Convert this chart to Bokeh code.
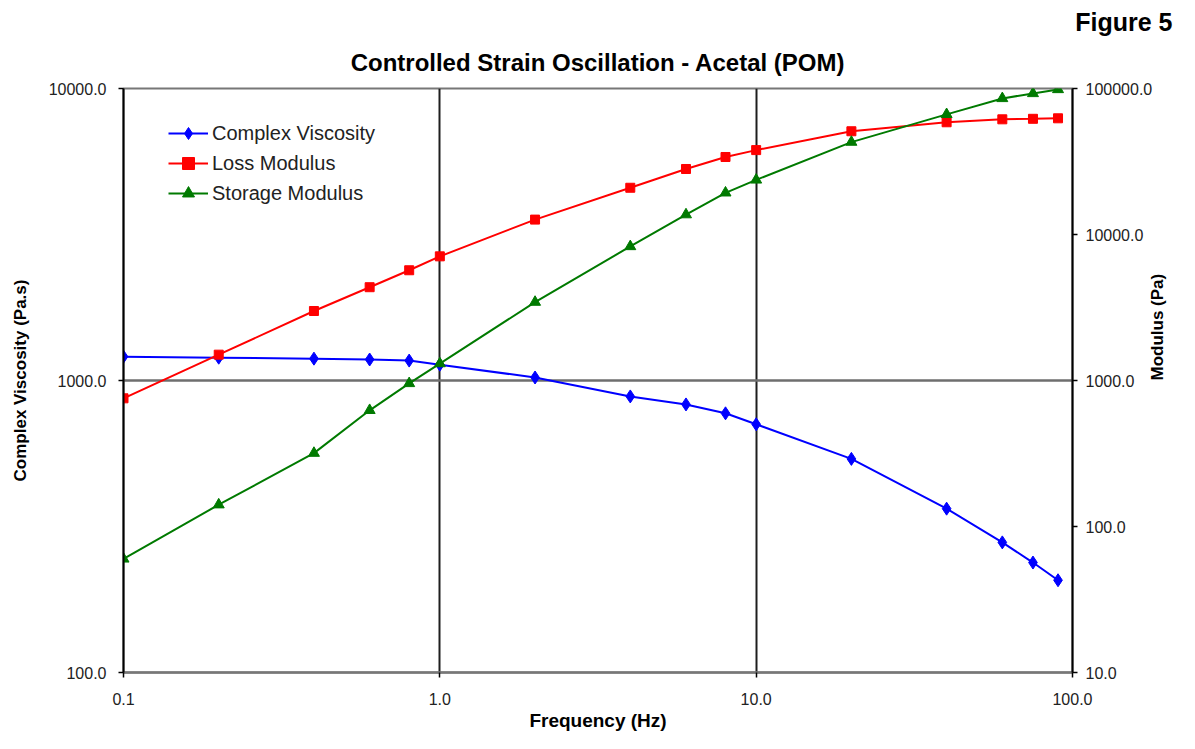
import math
from bokeh.plotting import figure
from bokeh.models import Range1d, LogScale, LogAxis, FixedTicker, Legend, LegendItem, Title
from bokeh.embed import file_html
from bokeh.resources import INLINE

# ---- data ----
freq = [0.1, 0.2, 0.4, 0.6, 0.8, 1.0, 2.0, 4.0, 6.0, 8.0, 10.0, 20.0, 40.0, 60.0, 75.0, 90.0]
complex_viscosity = [1207, 1197, 1188, 1180, 1170, 1133, 1024, 882, 828, 772, 708, 539, 364, 279, 238, 207]
loss_modulus = [755, 1503, 2992, 4355, 5690, 7085, 12650, 20900, 28100, 33950, 37850, 50950, 58700, 61500, 62000, 62500]
storage_modulus = [60, 141, 318, 625, 955, 1306, 3443, 8280, 13680, 19300, 23660, 42950, 66500, 85500, 92500, 98500]

x_ticks = [0.1, 1, 10, 100]
x_tick_labels = ["0.1", "1.0", "10.0", "100.0"]
left_ticks = [100, 1000, 10000]
left_tick_labels = ["100.0", "1000.0", "10000.0"]
right_ticks = [10, 100, 1000, 10000, 100000]
right_tick_labels = ["10.0", "100.0", "1000.0", "10000.0", "100000.0"]

title_text = "Controlled Strain Oscillation - Acetal (POM)"
figure_tag = "Figure 5"

FONT = "Liberation Sans"

p = figure(width=1179, height=733, x_axis_type="log", y_axis_type="log",
           x_range=Range1d(0.1, 100), y_range=Range1d(100, 10000),
           output_backend="svg", toolbar_location=None,
           min_border_left=123, min_border_right=104, min_border_top=88, min_border_bottom=61)
p.extra_y_ranges = {"mod": Range1d(10, 100000)}
p.extra_y_scales = {"mod": LogScale()}

p.background_fill_color = "white"
p.border_fill_color = "white"
p.outline_line_color = "#777777"
p.outline_line_width = 2

# titles: the figure tag is the outer one, the chart title sits next to the frame
p.title.text = figure_tag
p.title.align = "right"
p.title.offset = -100
p.title.text_font = FONT
p.title.text_font_size = "25px"
p.title.text_font_style = "bold"
p.title.text_color = "black"
p.title.standoff = -4
p.add_layout(Title(text=title_text, align="center", text_font=FONT,
                   text_font_size="24px", text_font_style="bold", text_color="black",
                   standoff=26), "above")

# grids
p.xgrid.ticker = FixedTicker(ticks=[1, 10])
p.xgrid.grid_line_color = "#1e1e1e"
p.xgrid.grid_line_width = 2
p.ygrid.ticker = FixedTicker(ticks=[1000])
p.ygrid.grid_line_color = "#6e6e6e"
p.ygrid.grid_line_width = 2.5

# x axis
xa = p.xaxis[0]
xa.ticker = FixedTicker(ticks=x_ticks)
xa.major_label_overrides = dict(zip(x_ticks, x_tick_labels))
xa.axis_label = "Frequency (Hz)"

# left axis
ya = p.yaxis[0]
ya.ticker = FixedTicker(ticks=left_ticks)
ya.major_label_overrides = dict(zip(left_ticks, left_tick_labels))
ya.axis_label = "Complex Viscosity (Pa.s)"

# right axis
ra = LogAxis(y_range_name="mod", axis_label="Modulus (Pa)")
ra.ticker = FixedTicker(ticks=right_ticks)
ra.major_label_overrides = dict(zip(right_ticks, right_tick_labels))
p.add_layout(ra, "right")

for ax in (xa, ya, ra):
    ax.minor_tick_line_color = None
    ax.major_tick_in = 0
    ax.major_tick_out = 5
    ax.major_tick_line_color = "black"
    ax.major_tick_line_width = 1.5
    ax.axis_line_color = "black"
    ax.axis_line_width = 2
    ax.major_label_text_font = FONT
    ax.major_label_text_font_size = "16px"
    ax.major_label_text_color = "#222222"
    ax.axis_label_text_font = FONT
    ax.axis_label_text_font_size = "17px"
    ax.axis_label_text_font_style = "bold"
    ax.axis_label_text_color = "black"
xa.axis_line_color = "#777777"
xa.axis_line_width = 2.5
xa.axis_label_text_font_size = "19px"
xa.major_label_standoff = 15
xa.axis_label_standoff = 2
ya.major_label_standoff = 12
ya.axis_label_standoff = 16
ra.major_label_standoff = 8
ra.axis_label_standoff = 2
if hasattr(ra, "axis_label_orientation"):
    ra.axis_label_orientation = math.pi / 2

blue = "#0000ff"
red = "#ff0000"
green = "#007a00"

lv = p.line(freq, complex_viscosity, line_color=blue, line_width=2)
sv = p.scatter(freq, complex_viscosity, marker="diamond", size=13, fill_color=blue, line_color=blue)
ll = p.line(freq, loss_modulus, line_color=red, line_width=2, y_range_name="mod")
sl = p.scatter(freq, loss_modulus, marker="square", size=9, fill_color=red, line_color=red, y_range_name="mod")
lg = p.line(freq, storage_modulus, line_color=green, line_width=2, y_range_name="mod")
sg = p.scatter(freq, storage_modulus, marker="triangle", size=11, fill_color=green, line_color=green, y_range_name="mod")

legend = Legend(items=[
    LegendItem(label="Complex Viscosity", renderers=[lv, sv]),
    LegendItem(label="Loss Modulus", renderers=[ll, sl]),
    LegendItem(label="Storage Modulus", renderers=[lg, sg]),
], location=(45, 464), margin=0, padding=0, spacing=0,
   glyph_width=40, glyph_height=30, label_height=30, label_standoff=4,
   border_line_color=None, background_fill_alpha=0,
   label_text_font=FONT, label_text_font_size="20px", label_text_color="#222222")
p.add_layout(legend, "center")

open("out.html", "w").write(file_html(p, INLINE))
